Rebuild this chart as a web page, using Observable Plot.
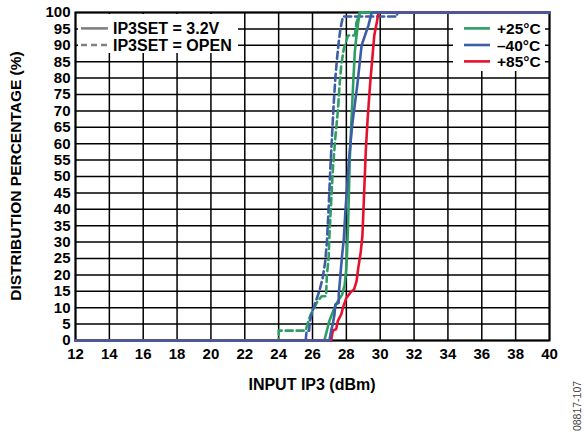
<!DOCTYPE html>
<html><head><meta charset="utf-8">
<script src="https://cdn.jsdelivr.net/npm/d3@7"></script>
<script src="https://cdn.jsdelivr.net/npm/@observablehq/plot@0.6"></script>
<style>body{margin:0;background:#fff}#chart{width:585px;height:448px}</style>
</head><body><div id="chart"></div>
<script>
// tick labels
const xTicks = [12,14,16,18,20,22,24,26,28,30,32,34,36,38,40];
const yTicks = [0,5,10,15,20,25,30,35,40,45,50,55,60,65,70,75,80,85,90,95,100];

// +25°C, IP3SET = 3.2V (solid green)
const g32_x = [12,26.7,26.8,26.9,27.0,27.15,27.3,27.5,27.75,27.9,28.0,28.05,28.1,28.15,28.2,28.3,28.4,28.5,28.6,28.7,28.8,40];
const g32_y = [0,0,2,4,6,8,10,12,14,17,22,28,35,45,55,67,78,88,93,97,100,100];
// −40°C, IP3SET = 3.2V (solid blue)
const b32_x = [12,27.0,27.1,27.2,27.3,27.35,27.55,27.55,27.65,27.75,27.85,27.95,28.05,28.15,28.35,28.5,28.65,28.9,29.1,29.3,29.5,40];
const b32_y = [0,0,3,5,8,11,11.5,14,20,26,31,40,47,55,66,72,78,90,93,96,100,100];
// +85°C, IP3SET = 3.2V (solid red)
const r32_x = [12,27.1,27.2,27.4,27.5,27.7,27.8,28.0,28.3,28.45,28.6,28.7,28.85,28.95,29.05,29.15,29.25,29.4,29.55,29.65,29.8,29.9,40];
const r32_y = [0,0,3,3.5,6,8,10,13,15,15.5,18,22,27,32,45,58,67,78,87,93,97,100,100];
// +25°C, IP3SET = OPEN (dashed green)
const gOp_x = [12,24.0,24.0,25.6,25.7,25.9,26.1,26.3,26.55,26.8,26.85,26.95,27.0,27.1,27.2,27.35,27.5,27.6,27.7,27.85,28.1,28.5,28.6,28.8,40];
const gOp_y = [0,0,3,3,5,8,10,12,13.5,13.5,20,25,32,42,52,62,70,78,84,89,93,93,97,100,100];
// −40°C, IP3SET = OPEN (dashed blue)
const bOp_x = [12,25.6,25.65,25.8,25.85,26.0,26.2,26.4,26.6,26.75,26.85,26.95,27.05,27.15,27.25,27.35,27.45,27.55,27.65,27.8,31.0,31.0,40];
const bOp_y = [0,0,3,3,6,9,12,15,19,24,30,40,52,62,72,80,86,91,95,98.8,98.8,100,100];

const colors = {g:"#2f9e62", b:"#3b5ea6", r:"#e5112e"};
const toRows = (xs, ys) => xs.map((v,i) => ({ip3:v, pct:ys[i]}));

const lineOpts = (stroke, dashed) => ({x:"ip3", y:"pct", stroke, strokeWidth:2.6, strokeDasharray: dashed ? "7,4" : null, curve:"linear"});

const chart = Plot.plot({
  width:585, height:448,
  marginLeft:75, marginRight:36, marginTop:12, marginBottom:108,
  style:{fontFamily:"'Liberation Sans', Arial, sans-serif", fontSize:"15px", fontWeight:"bold", color:"#000", background:"#fff", overflow:"visible"},
  x:{domain:[12,40]},
  y:{domain:[0,100]},
  marks:[
    Plot.gridX(xTicks, {stroke:"#000", strokeOpacity:1, strokeWidth:1.5}),
    Plot.gridY(yTicks, {stroke:"#000", strokeOpacity:1, strokeWidth:1.5}),
    Plot.axisX(xTicks, {tickSize:0, tickPadding:8, label:null, tickFormat:d=>String(d)}),
    Plot.axisY(yTicks, {tickSize:0, tickPadding:5, label:null, tickFormat:d=>String(d)}),
    Plot.frame({stroke:"#000", strokeWidth:2}),
    Plot.line(toRows(gOp_x,gOp_y), lineOpts(colors.g,true)),
    Plot.line(toRows(bOp_x,bOp_y), lineOpts(colors.b,true)),
    Plot.line(toRows(g32_x,g32_y), lineOpts(colors.g,false)),
    Plot.line(toRows(r32_x,r32_y), lineOpts(colors.r,false)),
    Plot.line(toRows(b32_x,b32_y), lineOpts(colors.b,false))
  ]
});
document.getElementById("chart").appendChild(chart);

const svg = d3.select(chart);
const font = "'Liberation Sans', Arial, sans-serif";
// axis titles
svg.append("text").attr("x",312).attr("y",390).attr("text-anchor","middle")
  .attr("font-family",font).attr("font-size",16).attr("font-weight","bold").text("INPUT IP3 (dBm)");
svg.append("text").attr("transform","translate(21,176) rotate(-90)").attr("text-anchor","middle")
  .attr("font-family",font).attr("font-size",15.5).attr("font-weight","bold").text("DISTRIBUTION PERCENTAGE (%)");
svg.append("text").attr("transform","translate(581,406) rotate(-90)").attr("text-anchor","middle")
  .attr("font-family",font).attr("font-size",10.5).attr("font-weight","normal").attr("fill","#444").text("08817-107");

// legend: IP3SET
const lg1 = svg.append("g");
lg1.append("rect").attr("x",78).attr("y",14).attr("width",160).attr("height",39).attr("fill","#fff");
[["IP3SET = 3.2V",null,28.4],["IP3SET = OPEN","6,4",45]].forEach(([t,dash,y])=>{
  lg1.append("line").attr("x1",81).attr("x2",108).attr("y1",y).attr("y2",y).attr("stroke","#808080").attr("stroke-width",2.6).attr("stroke-dasharray",dash);
  lg1.append("text").attr("x",113).attr("y",y).attr("dy","0.36em").attr("text-anchor","start").attr("font-family",font).attr("font-size",16).attr("font-weight","bold").text(t);
});
// legend: temperature
const lg2 = svg.append("g");
lg2.append("rect").attr("x",453).attr("y",14).attr("width",92).attr("height",57).attr("fill","#fff");
[["+25°C",colors.g,28.4],["\u201340°C",colors.b,45],["+85°C",colors.r,61.4]].forEach(([t,c,y])=>{
  lg2.append("line").attr("x1",464).attr("x2",490).attr("y1",y).attr("y2",y).attr("stroke",c).attr("stroke-width",2.6);
  lg2.append("text").attr("x",497).attr("y",y).attr("dy","0.36em").attr("text-anchor","start").attr("font-family",font).attr("font-size",15.5).attr("font-weight","bold").text(t);
});
</script>
</body></html>
